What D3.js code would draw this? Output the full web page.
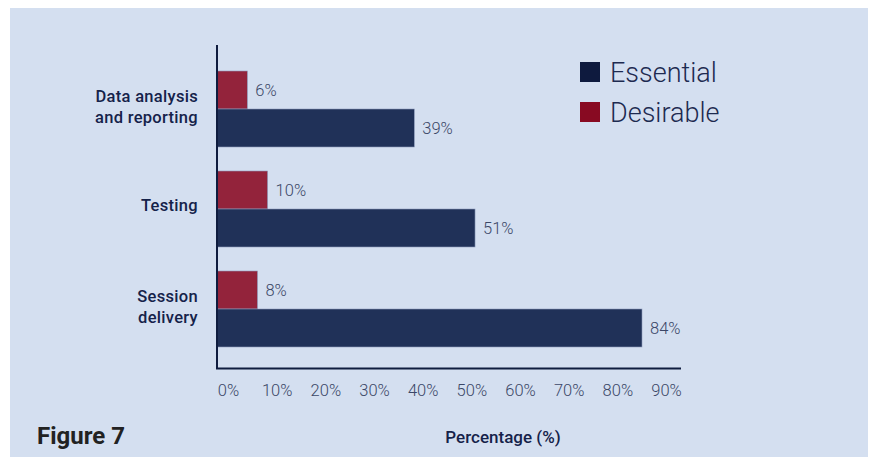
<!DOCTYPE html>
<html><head><meta charset="utf-8">
<script src="https://cdn.jsdelivr.net/npm/d3@7"></script>
<style>body{margin:0;background:#fff;}svg{display:block;}</style>
</head><body>
<svg id="chart" width="876" height="457"></svg>
<script>
const categories = [["Data analysis","and reporting"],["Testing"],["Session","delivery"]];
const seriesNames = ["Essential","Desirable"];
const essential = [39, 51, 84];
const desirable = [6, 10, 8];
const tickValues = [0,10,20,30,40,50,60,70,80,90];
const tickLabels = ["0%","10%","20%","30%","40%","50%","60%","70%","80%","90%"];

const svg = d3.select("#chart");
const font = "Roboto, 'DejaVu Sans', sans-serif";
svg.append("rect").attr("x",10).attr("y",8).attr("width",858).attr("height",449).attr("fill","#d4dff0");

const x = d3.scaleLinear().domain([0,84]).range([217,642]);
const xTick = d3.scaleLinear().domain([0,90]).range([228,666]);
const y = d3.scaleBand().domain(d3.range(categories.length)).range([71,347]).paddingInner(0.24).paddingOuter(0);
const sub = d3.scaleBand().domain(["Desirable","Essential"]).range([0,y.bandwidth()]);

const colBar = {Essential:"#203158", Desirable:"#93233b"};
const colLeg = {Essential:"#0e1a3e", Desirable:"#880a22"};

const g = svg.append("g");
categories.forEach((c,i)=>{
  const vals = {Essential:essential[i], Desirable:desirable[i]};
  ["Desirable","Essential"].forEach(s=>{
    const by = y(i)+sub(s);
    g.append("rect").attr("x",x(0)).attr("y",by).attr("width",x(vals[s])-x(0)).attr("height",sub.bandwidth())
      .attr("fill",colBar[s]).attr("stroke","#8e9cbc").attr("stroke-width",0.6);
    g.append("text").attr("x",x(vals[s])+8).attr("y",by+sub.bandwidth()/2+6)
      .attr("font-family",font).attr("font-size",16.5).attr("font-weight",300).attr("fill","#3b4767")
      .text(vals[s]+"%");
  });
  const cy = y(i)+y.bandwidth()/2;
  c.forEach((t,k)=>{
    const off = c.length===1 ? 2 : (k===0 ? -7 : 14);
    g.append("text").attr("x",198).attr("y",cy + off).attr("text-anchor","end")
      .attr("font-family",font).attr("font-size",16.5).attr("font-weight",500).attr("fill","#15224a")
      .attr("letter-spacing",0.3).text(t);
  });
});

svg.append("line").attr("x1",217).attr("x2",217).attr("y1",45).attr("y2",369).attr("stroke","#0f1c3f").attr("stroke-width",2);
svg.append("line").attr("x1",216).attr("x2",681).attr("y1",368.5).attr("y2",368.5).attr("stroke","#0f1c3f").attr("stroke-width",2);

const ax = d3.axisBottom(xTick).tickValues(tickValues).tickFormat((d,i)=>tickLabels[i]).tickSize(0).tickPadding(0);
const axg = svg.append("g").attr("transform","translate(0,384)").call(ax);
axg.select(".domain").remove();
axg.selectAll("text").attr("font-family",font).attr("font-size",16.5).attr("font-weight",300).attr("fill","#3b4767");

svg.append("text").attr("x",503).attr("y",443).attr("text-anchor","middle").attr("font-family",font)
  .attr("font-size",17).attr("font-weight",500).attr("fill","#15224a").text("Percentage (%)");

svg.append("text").attr("x",37).attr("y",444).attr("font-family",font)
  .attr("font-size",24).attr("font-weight",700).attr("fill","#222").text("Figure 7");

seriesNames.forEach((s,i)=>{
  const ly = 62 + i*40;
  svg.append("rect").attr("x",580).attr("y",ly).attr("width",20).attr("height",20).attr("fill",colLeg[s]);
  svg.append("text").attr("x",610).attr("y",ly+20).attr("font-family",font).attr("font-size",27)
    .attr("font-weight",300).attr("fill","#1d2a50").text(s);
});
</script>
</body></html>
